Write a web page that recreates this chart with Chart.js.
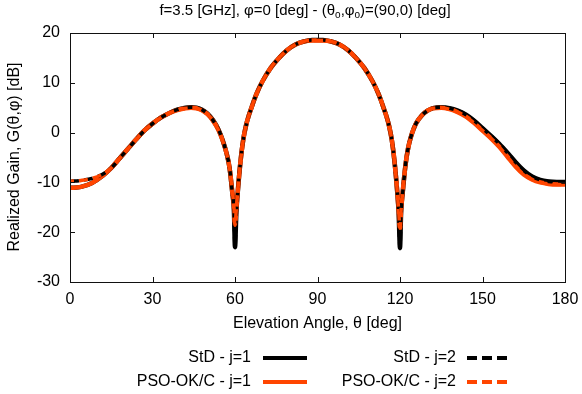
<!DOCTYPE html>
<html>
<head>
<meta charset="utf-8">
<script src="https://cdn.jsdelivr.net/npm/chart.js@4.4.1/dist/chart.umd.min.js"></script>
<style>
  html, body { margin: 0; padding: 0; background: #fff; }
  canvas { display: block; }
</style>
</head>
<body>
<canvas id="gain" width="582" height="394"></canvas>
<script>
// Elevation angle samples [deg]
const theta = [0, 4, 8, 12, 15, 18, 21, 24, 27, 30, 33, 36, 39, 42, 44, 46, 48, 50, 52, 54, 55.5, 57, 58, 59, 59.6, 60, 60.5, 61, 62, 63, 64, 65, 66, 67, 68, 70, 73, 76, 79, 82, 85, 88, 90, 92, 95, 98, 101, 104, 107, 110, 112, 113, 114, 115, 116, 117, 118, 119, 119.5, 120, 120.4, 121, 122, 123, 124, 125, 126, 128, 130, 132, 135, 138, 141, 144, 147, 150, 153, 156, 159, 162, 165, 168, 171, 174, 177, 180];

// Realized gain [dB]
const stdJ1 = [-11.1, -10.9, -10.1, -8.6, -7.1, -5.2, -3.3, -1.4, 0.4, 1.8, 3.0, 3.9, 4.6, 5.0, 5.1, 5.0, 4.6, 3.8, 2.5, 0.6, -1.5, -4.3, -7.0, -12.0, -15.5, -23.0, -16.0, -12.0, -5.8, -1.4, 1.4, 3.4, 5.0, 6.6, 8.0, 10.3, 13.0, 15.0, 16.6, 17.7, 18.3, 18.6, 18.6, 18.6, 18.3, 17.7, 16.6, 15.0, 13.0, 10.3, 8.0, 6.6, 5.0, 3.4, 1.4, -1.4, -5.8, -12.0, -16.0, -23.2, -16.0, -12.0, -6.5, -3.0, -0.8, 0.8, 2.0, 3.5, 4.4, 4.9, 5.1, 4.9, 4.4, 3.6, 2.4, 0.9, -0.6, -2.2, -4.0, -5.9, -7.6, -8.8, -9.5, -9.8, -9.9, -9.9];
const stdJ2 = [-9.8, -9.6, -9.2, -8.3, -7.1, -5.2, -3.3, -1.4, 0.4, 1.8, 3.0, 3.9, 4.6, 5.0, 5.1, 5.0, 4.6, 3.8, 2.5, 0.6, -1.5, -4.3, -7.0, -12.0, -15.5, -23.0, -16.0, -12.0, -5.8, -1.4, 1.4, 3.4, 5.0, 6.6, 8.0, 10.3, 13.0, 15.0, 16.6, 17.7, 18.3, 18.6, 18.6, 18.6, 18.3, 17.7, 16.6, 15.0, 13.0, 10.3, 8.0, 6.6, 5.0, 3.4, 1.4, -1.4, -5.8, -12.0, -16.0, -23.2, -16.0, -12.0, -6.5, -3.0, -0.8, 0.8, 2.0, 3.5, 4.4, 4.9, 5.1, 4.9, 4.4, 3.6, 2.4, 0.9, -0.6, -2.2, -4.0, -5.9, -7.6, -8.8, -9.5, -9.8, -9.9, -9.9];
const psoJ1 = [-11.1, -10.9, -10.1, -8.6, -7.1, -5.2, -3.3, -1.4, 0.4, 1.8, 3.0, 3.9, 4.5, 4.9, 5.0, 4.9, 4.5, 3.7, 2.4, 0.5, -1.6, -4.3, -7.0, -11.8, -14.8, -18.6, -15.2, -11.8, -5.8, -1.4, 1.4, 3.4, 5.0, 6.6, 8.0, 10.3, 13.0, 15.0, 16.6, 17.7, 18.3, 18.5, 18.5, 18.5, 18.3, 17.7, 16.6, 15.0, 13.0, 10.3, 8.0, 6.6, 5.0, 3.4, 1.4, -1.4, -5.8, -11.8, -15.5, -19.2, -15.5, -11.8, -6.5, -3.0, -0.8, 0.8, 2.0, 3.5, 4.4, 4.9, 5.0, 4.7, 4.1, 3.2, 1.9, 0.4, -1.1, -2.8, -4.8, -6.8, -8.4, -9.4, -10.0, -10.3, -10.4, -10.4];
const psoJ2 = [-9.8, -9.6, -9.2, -8.3, -7.1, -5.2, -3.3, -1.4, 0.4, 1.8, 3.0, 3.9, 4.5, 4.9, 5.0, 4.9, 4.5, 3.7, 2.4, 0.5, -1.6, -4.3, -7.0, -11.8, -14.8, -18.6, -15.2, -11.8, -5.8, -1.4, 1.4, 3.4, 5.0, 6.6, 8.0, 10.3, 13.0, 15.0, 16.6, 17.7, 18.3, 18.5, 18.5, 18.5, 18.3, 17.7, 16.6, 15.0, 13.0, 10.3, 8.0, 6.6, 5.0, 3.4, 1.4, -1.4, -5.8, -11.8, -15.5, -19.2, -15.5, -11.8, -6.5, -3.0, -0.8, 0.8, 2.0, 3.5, 4.4, 4.9, 5.0, 4.7, 4.1, 3.2, 1.9, 0.4, -1.1, -2.8, -4.8, -6.8, -8.4, -9.4, -10.0, -10.3, -10.4, -10.4];

// Axis ticks
const xTicks = [0, 30, 60, 90, 120, 150, 180];
const yTicks = [-30, -20, -10, 0, 10, 20];

const labels = ["StD - j=1", "StD - j=2", "PSO-OK/C - j=1", "PSO-OK/C - j=2"];

const FAMILY = '"Liberation Sans", Arial, Helvetica, sans-serif';
const FONT = '16px ' + FAMILY;
const TITLE_FONT = '15px ' + FAMILY;
const SUB_FONT = '10px ' + FAMILY;
const BLACK = '#000000';
const ORANGE = '#ff4500';

function toPoints(ys) {
    return theta.map((t, i) => ({ x: t, y: ys[i] }));
}

// Build datasets. order: higher drawn first (underneath).
const datasets = [
    { label: labels[0], data: toPoints(stdJ1), borderColor: BLACK,  borderWidth: 4.5, borderDash: [],     order: 3 },
    { label: labels[1], data: toPoints(stdJ2), borderColor: BLACK,  borderWidth: 3.5, borderDash: [9, 5], order: 1 },
    { label: labels[2], data: toPoints(psoJ1), borderColor: ORANGE, borderWidth: 4.5, borderDash: [],     order: 2 },
    { label: labels[3], data: toPoints(psoJ2), borderColor: ORANGE, borderWidth: 3.5, borderDash: [9, 5], borderDashOffset: 5, order: 0 }
];
datasets.forEach(d => {
    d.pointRadius = 0;
    d.fill = false;
    d.cubicInterpolationMode = 'monotone';
});

// Draws title, axis titles, frame with inward ticks and the gnuplot-like key.
const decorations = {
    id: 'decorations',
    afterDatasetsDraw(chart) {
        const { ctx, chartArea: a, scales } = chart;
        ctx.save();

        // frame
        ctx.strokeStyle = '#111';
        ctx.lineWidth = 1;
        ctx.strokeRect(a.left + 0.5, a.top + 0.5, a.right - a.left, a.bottom - a.top);

        // inward ticks on all four sides
        ctx.beginPath();
        xTicks.forEach(v => {
            const px = Math.round(scales.x.getPixelForValue(v)) + 0.5;
            ctx.moveTo(px, a.bottom); ctx.lineTo(px, a.bottom - 5);
            ctx.moveTo(px, a.top);    ctx.lineTo(px, a.top + 5);
        });
        yTicks.forEach(v => {
            const py = Math.round(scales.y.getPixelForValue(v)) + 0.5;
            ctx.moveTo(a.left, py);  ctx.lineTo(a.left + 5, py);
            ctx.moveTo(a.right, py); ctx.lineTo(a.right - 5, py);
        });
        ctx.stroke();

        ctx.fillStyle = '#000';

        // title with subscripts
        const parts = [
            ['f=3.5 [GHz], φ=0 [deg] - (θ', false],
            ['o', true],
            [',φ', false],
            ['o', true],
            [')=(90,0) [deg]', false]
        ];
        let total = 0;
        parts.forEach(p => { ctx.font = p[1] ? SUB_FONT : TITLE_FONT; total += ctx.measureText(p[0]).width; });
        let tx = 305 - total / 2;
        ctx.textAlign = 'left';
        ctx.textBaseline = 'alphabetic';
        parts.forEach(p => {
            ctx.font = p[1] ? SUB_FONT : TITLE_FONT;
            ctx.fillText(p[0], tx, p[1] ? 18 : 15);
            tx += ctx.measureText(p[0]).width;
        });

        // axis titles
        ctx.font = FONT;
        ctx.textAlign = 'center';
        ctx.textBaseline = 'middle';
        ctx.fillText('Elevation Angle, θ [deg]', (a.left + a.right) / 2, 324);
        ctx.save();
        ctx.translate(15, 157);
        ctx.rotate(-Math.PI / 2);
        ctx.fillText('Realized Gain, G(θ,φ) [dB]', 0, 0);
        ctx.restore();

        // key: two columns, text right aligned before the line sample
        const slots = [
            { ds: 0, textX: 251, lineX: 263, y: 358 },
            { ds: 1, textX: 456, lineX: 467, y: 358 },
            { ds: 2, textX: 251, lineX: 263, y: 382 },
            { ds: 3, textX: 456, lineX: 467, y: 382 }
        ];
        slots.forEach(s => {
            const d = chart.data.datasets[s.ds];
            ctx.font = FONT;
            ctx.textAlign = 'right';
            ctx.textBaseline = 'middle';
            ctx.fillStyle = '#000';
            ctx.fillText(d.label, s.textX, s.y);
            ctx.beginPath();
            ctx.strokeStyle = d.borderColor;
            ctx.lineWidth = 4;
            ctx.setLineDash(d.borderDash.length ? [10, 5] : []);
            ctx.moveTo(s.lineX, s.y);
            ctx.lineTo(s.lineX + 44, s.y);
            ctx.stroke();
            ctx.setLineDash([]);
        });

        ctx.restore();
    }
};

new Chart(document.getElementById('gain'), {
    type: 'line',
    data: { datasets: datasets },
    options: {
        responsive: false,
        animation: false,
        devicePixelRatio: 1,
        layout: { padding: { top: 33, right: 17, bottom: 0, left: 0 } },
        plugins: {
            legend: { display: false },
            title: { display: false },
            tooltip: { enabled: false }
        },
        scales: {
            x: {
                type: 'linear',
                min: 0,
                max: 180,
                afterFit: s => { s.height = 112; s.paddingLeft = 0; s.paddingRight = 0; },
                afterBuildTicks: s => { s.ticks = xTicks.map(v => ({ value: v })); },
                grid: { display: false, drawTicks: false },
                border: { display: false },
                ticks: { color: '#000', font: { family: FAMILY, size: 16 }, padding: 8, maxRotation: 0 }
            },
            y: {
                type: 'linear',
                min: -30,
                max: 20,
                afterFit: s => { s.width = 70; s.paddingTop = 0; s.paddingBottom = 0; },
                afterBuildTicks: s => { s.ticks = yTicks.map(v => ({ value: v })); },
                grid: { display: false, drawTicks: false },
                border: { display: false },
                ticks: { color: '#000', font: { family: FAMILY, size: 16 }, padding: 10 }
            }
        }
    },
    plugins: [decorations]
});
</script>
</body>
</html>
